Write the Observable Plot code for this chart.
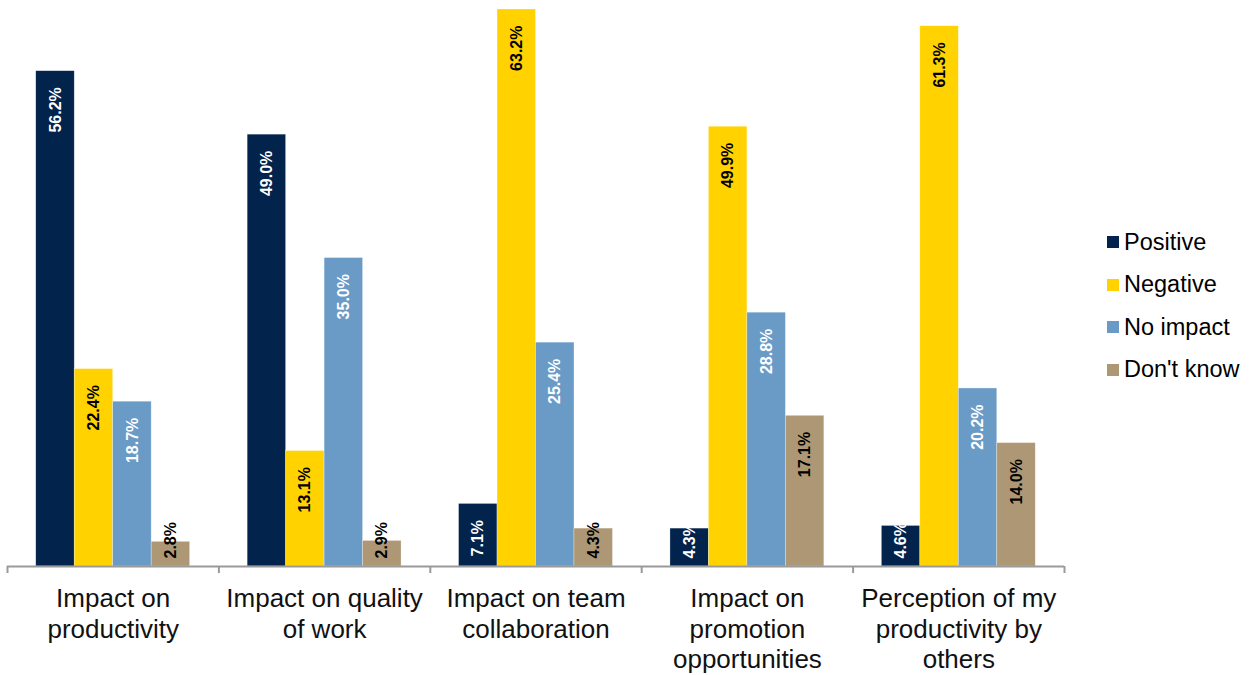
<!DOCTYPE html>
<html>
<head>
<meta charset="utf-8">
<script src="https://cdn.jsdelivr.net/npm/d3@7"></script>
<script src="https://cdn.jsdelivr.net/npm/@observablehq/plot@0.6"></script>
<style>
  html, body { margin: 0; padding: 0; background: #fff; }
  #wrap { position: relative; width: 1250px; height: 675px; font-family: "Liberation Sans", Arial, sans-serif; }
  #legend { position: absolute; left: 1107px; top: 221px; }
  .lg-swatch { height: 42.5px !important; padding-bottom: 0 !important; }
  .lg-swatch svg { margin-right: 5px !important; }
</style>
</head>
<body>
<div id="wrap"><div id="chart"></div><div id="legend"></div></div>
<script>
const categories = [
  "Impact on\nproductivity",
  "Impact on quality\nof work",
  "Impact on team\ncollaboration",
  "Impact on\npromotion\nopportunities",
  "Perception of my\nproductivity by\nothers"
];
const seriesNames = ["Positive", "Negative", "No impact", "Don't know"];
const positive = [56.2, 49.0, 7.1, 4.3, 4.6];
const negative = [22.4, 13.1, 63.2, 49.9, 61.3];
const noImpact = [18.7, 35.0, 25.4, 28.8, 20.2];
const dontKnow = [2.8, 2.9, 4.3, 17.1, 14.0];
const seriesColors = ["#01234c", "#ffd200", "#6a9bc7", "#ae9774"];
const labelColors = ["#ffffff", "#000000", "#ffffff", "#000000"];

const seriesValues = [positive, negative, noImpact, dontKnow];

// layout helpers
const W = 1250, H = 675, mT = 9, mB = 109, mL = 7, mR = 186;
const pad = 0.136;                 // outer padding per category (fraction)
const bw = (1 - 2 * pad) / seriesNames.length;
const yMax = d3.max(seriesValues.flat());
const k = (H - mT - mB) / yMax;    // px per unit

const rows = [];
seriesValues.forEach((vals, si) => {
  vals.forEach((v, ci) => {
    const x1 = ci + pad + si * bw;
    const label = v.toFixed(1) + "%";
    const len = label.length === 5 ? 45 : 36.5;
    const yLabel = Math.max(v - 16 / k, (8 + len) / k);
    rows.push({ci, si, series: seriesNames[si], value: v, x1, x2: x1 + bw, xm: x1 + bw / 2, label, yLabel});
  });
});

const bounds = d3.range(categories.length + 1);

const chart = Plot.plot({
  width: W, height: H,
  marginTop: mT, marginBottom: mB, marginLeft: mL, marginRight: mR,
  style: {fontFamily: '"Liberation Sans", Arial, sans-serif', background: "#fff"},
  x: {domain: [0, categories.length], axis: null},
  y: {domain: [0, yMax], axis: null},
  color: {domain: seriesNames, range: seriesColors},
  marks: [
    Plot.rectY(rows, {x1: "x1", x2: "x2", y: "value", fill: "series", stroke: "#ffffff", strokeWidth: 0.6, strokeOpacity: 0.5}),
    Plot.ruleY([0], {stroke: "#9a9a9a", strokeWidth: 2}),
    Plot.ruleX(bounds, {x: d => d, y1: 0, y2: -7 / k, stroke: "#9a9a9a", strokeWidth: 2}),
    Plot.text(rows, {
      x: "xm", y: "yLabel", text: "label", rotate: -90, textAnchor: "end",
      fill: d => labelColors[d.si], fontWeight: "bold", fontSize: 16
    }),
    Plot.text(categories, {
      x: (d, i) => i + 0.5, y: 0, text: d => d, lineAnchor: "top", dy: 19,
      fontSize: 26, lineHeight: 1.17, fill: "#111"
    })
  ]
});
document.getElementById("chart").appendChild(chart);

const legend = Plot.legend({
  color: {domain: seriesNames, range: seriesColors},
  legend: "swatches", columns: 1, swatchSize: 12, className: "lg",
  style: {fontSize: "23.5px", fontFamily: '"Liberation Sans", Arial, sans-serif', color: "#000", background: "transparent"}
});
document.getElementById("legend").appendChild(legend);
</script>
</body>
</html>
